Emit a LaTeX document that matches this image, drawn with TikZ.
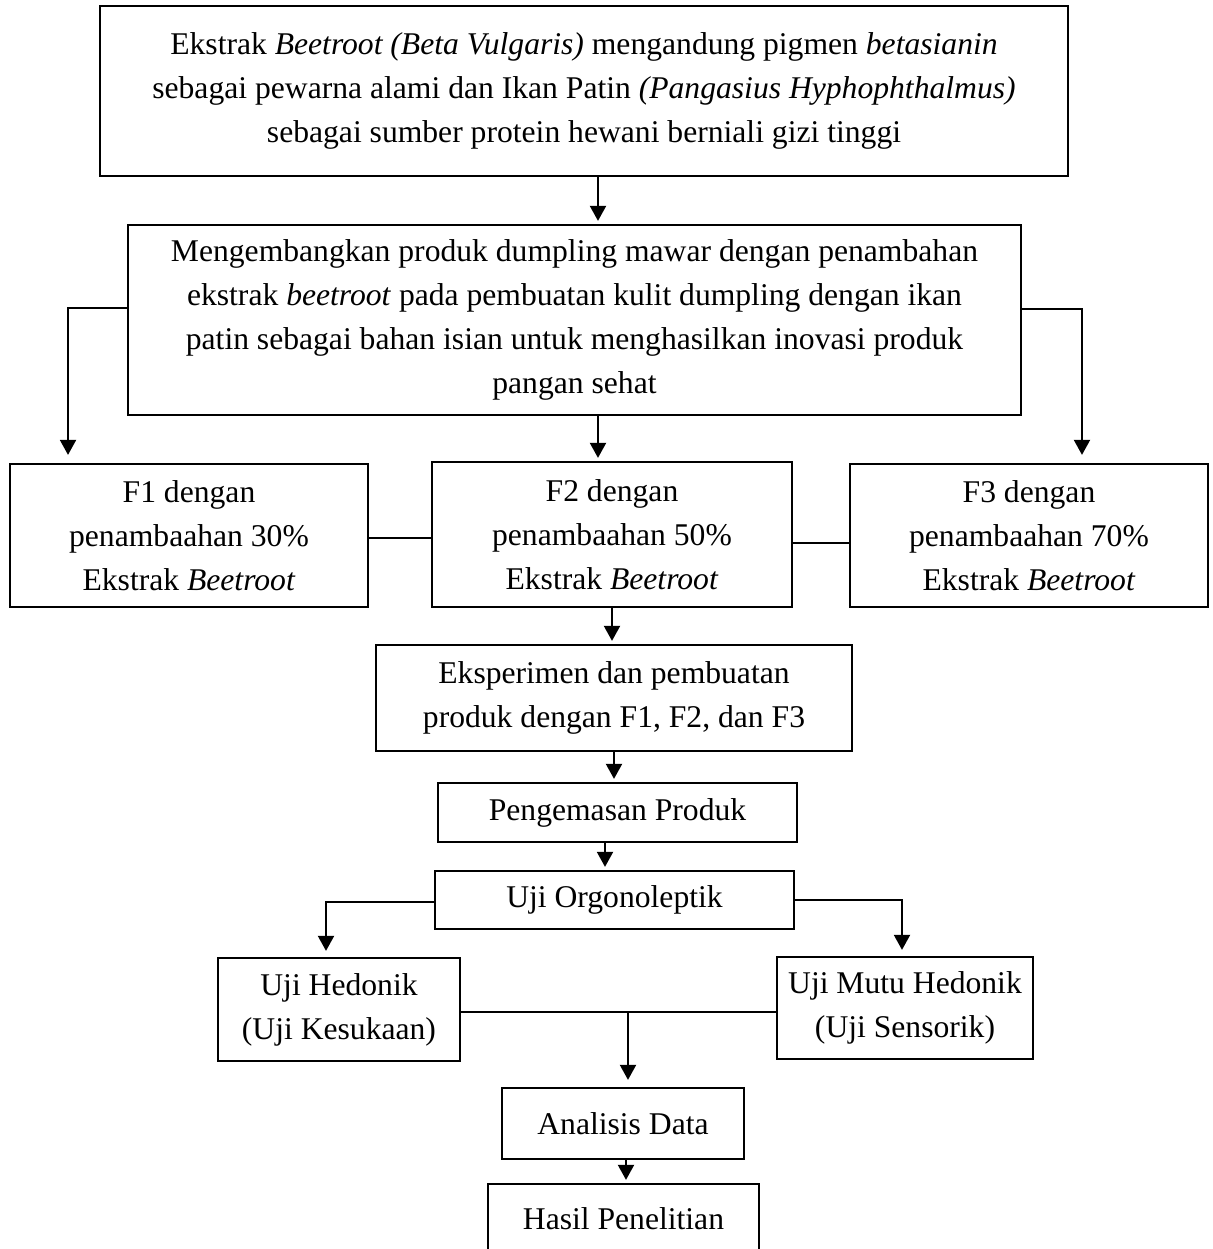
\documentclass[tikz,border=0pt]{standalone}
\usepackage{fontspec}
\setmainfont{Liberation Serif}
\usetikzlibrary{arrows.meta,positioning,calc}

\begin{document}
\begin{tikzpicture}[x=0.02cm, y=-0.02cm,
    every node/.style={font=\fontsize{18}{25}\selectfont, align=center, inner sep=1pt},
    box/.style={draw, line width=1.3pt},
    arr/.style={-{Triangle[length=0.3cm, width=0.32cm]}, line width=1.1pt, shorten >=0.06cm},
    lnk/.style={line width=1.1pt}
  ]
    \useasboundingbox (0,0) rectangle (1213,1249);
    % first row
    \node[box, minimum width=19.36cm, minimum height=3.4cm] (top) at (584,91)
      {Ekstrak \textit{Beetroot (Beta Vulgaris)} mengandung pigmen \textit{betasianin}\\
       sebagai pewarna alami dan Ikan Patin \textit{(Pangasius Hyphophthalmus)}\\
       sebagai sumber protein hewani berniali gizi tinggi};
    \node[box, minimum width=17.86cm, minimum height=3.8cm] (dev) at (574.5,320)
      {Mengembangkan produk dumpling mawar dengan penambahan\\
       ekstrak \textit{beetroot} pada pembuatan kulit dumpling dengan ikan\\
       patin sebagai bahan isian untuk menghasilkan inovasi produk\\
       pangan sehat};
    % formulas
    \node[box, minimum width=7.16cm, minimum height=2.86cm] (fone) at (189,535.5)
      {F1 dengan\\ penambaahan 30\%\\ Ekstrak \textit{Beetroot}};
    \node[box, minimum width=7.2cm, minimum height=2.9cm] (ftwo) at (612,534.5)
      {F2 dengan\\ penambaahan 50\%\\ Ekstrak \textit{Beetroot}};
    \node[box, minimum width=7.16cm, minimum height=2.86cm] (fthree) at (1029,535.5)
      {F3 dengan\\ penambaahan 70\%\\ Ekstrak \textit{Beetroot}};
    % process
    \node[box, minimum width=9.52cm, minimum height=2.12cm] (eksp) at (614,698)
      {Eksperimen dan pembuatan\\ produk dengan F1, F2, dan F3};
    \node[box, minimum width=7.18cm, minimum height=1.18cm] (kemas) at (617.5,812.5)
      {Pengemasan Produk};
    \node[box, minimum width=7.18cm, minimum height=1.16cm] (organo) at (614.5,900)
      {Uji Orgonoleptik};
    \node[box, minimum width=4.84cm, minimum height=2.06cm] (hedonik) at (339,1009.5)
      {Uji Hedonik\\ (Uji Kesukaan)};
    \node[box, minimum width=5.12cm, minimum height=2.04cm] (mutu) at (905,1008)
      {Uji Mutu Hedonik\\ (Uji Sensorik)};
    \node[box, minimum width=4.84cm, minimum height=1.42cm] (analisis) at (623,1123.5)
      {Analisis Data};
    \node[box, minimum width=5.42cm, minimum height=1.4cm] (hasil) at (623.5,1219)
      {Hasil Penelitian};
    \coordinate (join) at (628,1011);

    % connectors
    \draw[arr] ([xshift=0.28cm]top.south) -- ([xshift=0.28cm]top.south |- dev.north);
    \draw[arr, shorten >=0.16cm] ([yshift=0.24cm]dev.west) -| ([xshift=-2.42cm]fone.north);
    \draw[arr, shorten >=0.16cm] ([yshift=0.22cm]dev.east) -| ([xshift=1.06cm]fthree.north);
    \draw[arr] ([xshift=0.47cm]dev.south) -- ([xshift=0.47cm]dev.south |- ftwo.north);
    \draw[lnk] ([yshift=-0.05cm]fone.east) -- ([yshift=-0.05cm]fone.east -| ftwo.west);
    \draw[lnk] ([yshift=-0.17cm]ftwo.east) -- ([yshift=-0.17cm]ftwo.east -| fthree.west);
    \draw[arr] (ftwo.south) -- (ftwo.south |- eksp.north);
    \draw[arr] (eksp.south) -- (eksp.south |- kemas.north);
    \draw[arr] ([xshift=-0.25cm]kemas.south) -- ([xshift=-0.25cm]kemas.south |- organo.north);
    \draw[arr, shorten >=0.12cm] ([yshift=-0.04cm]organo.west) -| ([xshift=-0.26cm]hedonik.north);
    \draw[arr, shorten >=0.12cm] (organo.east) -| ([xshift=-0.06cm]mutu.north);
    \draw[lnk] ([yshift=-0.05cm]hedonik.east) -- ([yshift=-0.05cm]hedonik.east -| mutu.west);
    \draw[arr, shorten >=0.14cm] (join) -- (join |- analisis.north);
    \draw[arr] ([xshift=0.06cm]analisis.south) -- ([xshift=0.06cm]analisis.south |- hasil.north);
  \end{tikzpicture}
\end{document}
